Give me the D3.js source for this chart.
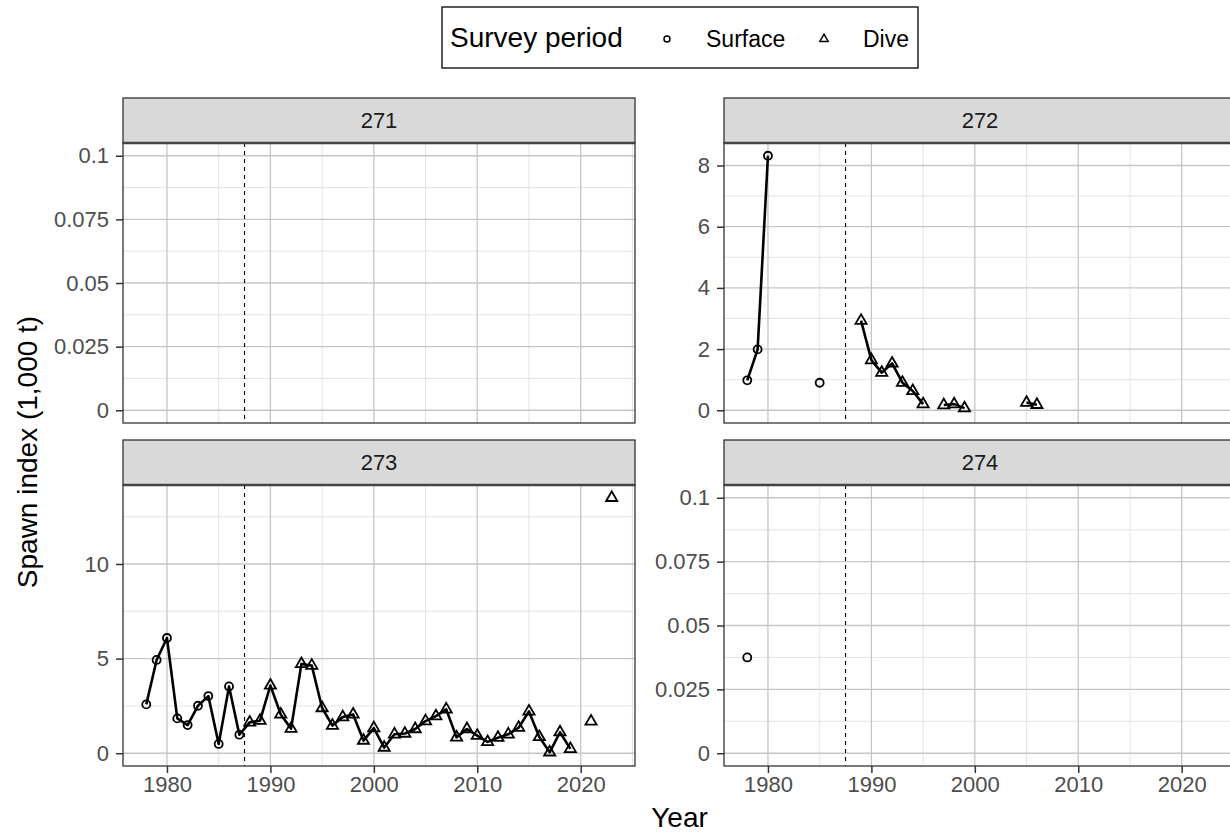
<!DOCTYPE html>
<html><head><meta charset="utf-8">
<script src="https://cdn.jsdelivr.net/npm/d3@7"></script>
<style>
body{margin:0;background:#fff}
svg{display:block}
text{font-family:"Liberation Sans",Arial,Helvetica,sans-serif}
</style>
</head><body>
<svg id="chart" width="1230" height="835"></svg>
<script>
// ---------------- data ----------------
const panelIds = ["271", "272", "273", "274"];
const yearRange = [1978, 2023];
const surveyChangeYear = 1987.5;           // Surface -> Dive
const periods = ["Surface", "Dive"];

const yrs271 = [];
const val271 = [];

const yrs272 = [1978, 1979, 1980, 1985, 1989, 1990, 1991, 1992, 1993, 1994, 1995, 1997, 1998, 1999, 2005, 2006];
const val272 = [0.98, 1.99, 8.32, 0.90, 2.93, 1.64, 1.23, 1.53, 0.90, 0.63, 0.20, 0.17, 0.20, 0.07, 0.25, 0.18];

const yrs273 = [1978, 1979, 1980, 1981, 1982, 1983, 1984, 1985, 1986, 1987,
                1988, 1989, 1990, 1991, 1992, 1993, 1994, 1995, 1996, 1997,
                1998, 1999, 2000, 2001, 2002, 2003, 2004, 2005, 2006, 2007,
                2008, 2009, 2010, 2011, 2012, 2013, 2014, 2015, 2016, 2017,
                2018, 2019, 2021, 2023];
const val273 = [2.58, 4.93, 6.09, 1.84, 1.49, 2.51, 3.02, 0.49, 3.53, 0.98,
                1.63, 1.72, 3.58, 2.05, 1.30, 4.72, 4.63, 2.39, 1.46, 1.91,
                2.05, 0.67, 1.33, 0.30, 1.00, 1.04, 1.28, 1.70, 1.96, 2.32,
                0.84, 1.28, 0.93, 0.60, 0.82, 1.00, 1.35, 2.21, 0.86, 0.05,
                1.11, 0.23, 1.68, 13.5];

const yrs274 = [1978];
const val274 = [0.0375];

const xTicks = [1980, 1990, 2000, 2010, 2020];
const yTicksSmall = [0, 0.025, 0.05, 0.075, 0.1];
const yLabelsSmall = ["0", "0.025", "0.05", "0.075", "0.1"];
const yTicks272 = [0, 2, 4, 6, 8];
const yTicks273 = [0, 5, 10];
const emptyLimits = [0, 0.1];

const seriesYears = [yrs271, yrs272, yrs273, yrs274];
const seriesVals = [val271, val272, val273, val274];
const panelTicks = [yTicksSmall, yTicks272, yTicks273, yTicksSmall];

// ---------------- layout ----------------
const svg = d3.select("#chart");
svg.append("rect").attr("width", 1230).attr("height", 835).attr("fill", "#fff");

const colX = [[123, 635], [724, 1236]];
const rowY = [{strip: 98, top: 143, bottom: 423}, {strip: 440, top: 485, bottom: 766}];
const SMALL = 22, BIG = 28;

function expand(d) { const r = d[1] - d[0]; return [d[0] - 0.05 * r, d[1] + 0.05 * r]; }

const xDomain = expand(yearRange);

panelIds.forEach((id, i) => {
  const col = i % 2, row = Math.floor(i / 2);
  const [x0, x1] = colX[col];
  const R = rowY[row];
  const yrs = seriesYears[i], vals = seriesVals[i];

  const x = d3.scaleLinear().domain(xDomain).range([x0, x1]);
  const lim = vals.length > 1 ? [0, d3.max(vals)] : emptyLimits;
  const y = d3.scaleLinear().domain(expand(lim)).range([R.bottom, R.top]);

  const g = svg.append("g");
  const clipId = "clip" + id;
  svg.append("clipPath").attr("id", clipId)
    .append("rect").attr("x", x0).attr("y", R.top).attr("width", x1 - x0).attr("height", R.bottom - R.top);
  const pg = g.append("g").attr("clip-path", `url(#${clipId})`);

  // grid
  const xMinor = [];
  xTicks.forEach(t => { [t - 5, t + 5].forEach(m => { if (m >= xDomain[0] && m <= xDomain[1] && !xMinor.includes(m)) xMinor.push(m); }); });
  const ticks = panelTicks[i];
  const step = ticks[1] - ticks[0];
  const yd = y.domain();
  const yMinor = [];
  ticks.forEach(t => { [t - step / 2, t + step / 2].forEach(m => { if (m >= yd[0] && m <= yd[1] && !yMinor.some(v => Math.abs(v - m) < 1e-9)) yMinor.push(m); }); });

  pg.selectAll(".xminor").data(xMinor).join("line")
    .attr("x1", d => x(d)).attr("x2", d => x(d)).attr("y1", R.top).attr("y2", R.bottom)
    .attr("stroke", "#e0e0e0").attr("stroke-width", 0.9);
  pg.selectAll(".yminor").data(yMinor).join("line")
    .attr("x1", x0).attr("x2", x1).attr("y1", d => y(d)).attr("y2", d => y(d))
    .attr("stroke", "#e0e0e0").attr("stroke-width", 0.9);
  pg.selectAll(".xmajor").data(xTicks).join("line")
    .attr("x1", d => x(d)).attr("x2", d => x(d)).attr("y1", R.top).attr("y2", R.bottom)
    .attr("stroke", "#c6c6c6").attr("stroke-width", 1.3);
  pg.selectAll(".ymajor").data(ticks).join("line")
    .attr("x1", x0).attr("x2", x1).attr("y1", d => y(d)).attr("y2", d => y(d))
    .attr("stroke", "#c6c6c6").attr("stroke-width", 1.3);

  // dashed survey change line
  pg.append("line")
    .attr("x1", x(surveyChangeYear)).attr("x2", x(surveyChangeYear))
    .attr("y1", R.top).attr("y2", R.bottom)
    .attr("stroke", "#000").attr("stroke-width", 1.1).attr("stroke-dasharray", "4,4");

  // line runs (consecutive years)
  const pts = yrs.map((yr, k) => ({year: yr, value: vals[k]}));
  const runs = [];
  let cur = [];
  pts.forEach((p, k) => {
    if (k > 0 && p.year - pts[k - 1].year > 1) { runs.push(cur); cur = []; }
    cur.push(p);
  });
  if (cur.length) runs.push(cur);
  const line = d3.line().x(d => x(d.year)).y(d => y(d.value));
  pg.selectAll(".run").data(runs.filter(r => r.length > 1)).join("path")
    .attr("d", line).attr("fill", "none").attr("stroke", "#000").attr("stroke-width", 2.6)
    .attr("stroke-linejoin", "round");

  // points
  const tri = d3.symbol().type(d3.symbolTriangle).size(54);
  const circ = d3.symbol().type(d3.symbolCircle).size(Math.PI * 4 * 4);
  pg.selectAll(".pt").data(pts).join("path")
    .attr("transform", d => `translate(${x(d.year)},${y(d.value)})`)
    .attr("d", d => d.year < surveyChangeYear ? circ() : tri())
    .attr("fill", "none").attr("stroke", "#000").attr("stroke-width", 1.8);

  // border
  g.append("rect").attr("x", x0).attr("y", R.top).attr("width", x1 - x0).attr("height", R.bottom - R.top)
    .attr("fill", "none").attr("stroke", "#333").attr("stroke-width", 1.3);

  // strip
  g.append("rect").attr("x", x0).attr("y", R.strip).attr("width", x1 - x0).attr("height", R.top - R.strip)
    .attr("fill", "#d9d9d9").attr("stroke", "#333").attr("stroke-width", 1.3);
  g.append("line").attr("x1", x0).attr("x2", x1).attr("y1", R.top).attr("y2", R.top)
    .attr("stroke", "#444").attr("stroke-width", 2.4);
  g.append("text").attr("x", (x0 + x1) / 2).attr("y", (R.strip + R.top) / 2).attr("dy", "0.36em")
    .attr("text-anchor", "middle").attr("font-size", SMALL).attr("fill", "#1a1a1a").text(id);

  // y axis
  const yAxis = d3.axisLeft(y).tickValues(ticks).tickSize(7).tickPadding(7)
    .tickFormat(d => ticks === yTicksSmall ? yLabelsSmall[ticks.indexOf(d)] : d3.format("~g")(d));
  const ya = g.append("g").attr("transform", `translate(${x0},0)`).call(yAxis);
  ya.select(".domain").remove();
  ya.selectAll(".tick line").attr("stroke", "#333").attr("stroke-width", 1.5);
  ya.selectAll(".tick text").attr("font-size", SMALL).attr("fill", "#4d4d4d")
    .attr("font-family", '"Liberation Sans",Arial,sans-serif');

  // x axis on bottom row
  if (row === 1) {
    const xa = g.append("g").attr("transform", `translate(0,${R.bottom})`)
      .call(d3.axisBottom(x).tickValues(xTicks).tickSize(7).tickPadding(3).tickFormat(d3.format("d")));
    xa.select(".domain").remove();
    xa.selectAll(".tick line").attr("stroke", "#333").attr("stroke-width", 1.5);
    xa.selectAll(".tick text").attr("font-size", SMALL).attr("fill", "#4d4d4d")
      .attr("font-family", '"Liberation Sans",Arial,sans-serif');
  }
});

// axis titles
const plotCenterX = (colX[0][0] + colX[1][1]) / 2;
svg.append("text").attr("x", plotCenterX).attr("y", 827).attr("text-anchor", "middle")
  .attr("font-size", BIG).attr("fill", "#000").text("Year");
svg.append("text").attr("transform", "translate(37,452) rotate(-90)").attr("text-anchor", "middle")
  .attr("font-size", BIG).attr("fill", "#000").text("Spawn index (1,000 t)");

// legend
const lg = svg.append("g");
lg.append("rect").attr("x", 442).attr("y", 7).attr("width", 476).attr("height", 61)
  .attr("fill", "#fff").attr("stroke", "#000").attr("stroke-width", 1.3);
lg.append("text").attr("x", 450).attr("y", 47).attr("font-size", BIG).attr("fill", "#000").text("Survey period");
const legendPos = [{sym: d3.symbolCircle, size: Math.PI * 3 * 3, kx: 667, tx: 706},
                   {sym: d3.symbolTriangle, size: 30, kx: 824, tx: 863}];
periods.forEach((p, k) => {
  lg.append("path").attr("transform", `translate(${legendPos[k].kx},39)`)
    .attr("d", d3.symbol().type(legendPos[k].sym).size(legendPos[k].size)())
    .attr("fill", "none").attr("stroke", "#000").attr("stroke-width", 1.5);
  lg.append("text").attr("x", legendPos[k].tx).attr("y", 47).attr("font-size", 23).attr("fill", "#000").text(p);
});
</script>
</body></html>
